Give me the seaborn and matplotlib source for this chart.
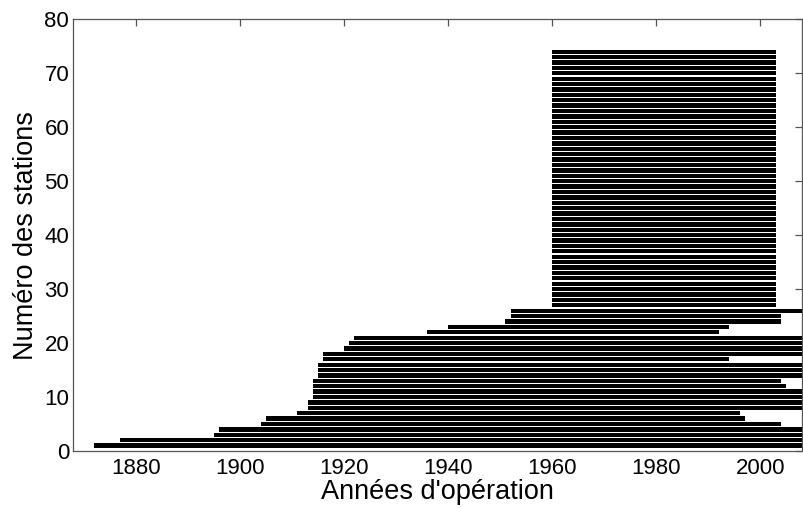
import matplotlib
matplotlib.use("Agg")
import matplotlib.pyplot as plt
import seaborn as sns
import pandas as pd
import numpy as np

# Station operating periods (start year, end year), station numbers 1..74
start_years = [1872, 1877, 1895, 1896, 1904, 1905, 1911, 1913, 1913, 1914,
               1914, 1914, 1914, 1915, 1915, 1915, 1916, 1916, 1920, 1921,
               1922, 1936, 1940, 1951, 1952, 1952,
               1960, 1960, 1960, 1960, 1960, 1960, 1960, 1960, 1960, 1960,
               1960, 1960, 1960, 1960, 1960, 1960, 1960, 1960, 1960, 1960,
               1960, 1960, 1960, 1960, 1960, 1960, 1960, 1960, 1960, 1960,
               1960, 1960, 1960, 1960, 1960, 1960, 1960, 1960, 1960, 1960,
               1960, 1960, 1960, 1960, 1960, 1960, 1960, 1960]
end_years = [2008, 2008, 2008, 2008, 2004, 1997, 1996, 2008, 2008, 2008,
             2008, 2005, 2004, 2008, 2008, 2008, 1994, 2008, 2008, 2008,
             2008, 1992, 1994, 2004, 2004, 2008,
             2003, 2003, 2003, 2003, 2003, 2003, 2003, 2003, 2003, 2003,
             2003, 2003, 2003, 2003, 2003, 2003, 2003, 2003, 2003, 2003,
             2003, 2003, 2003, 2003, 2003, 2003, 2003, 2003, 2003, 2003,
             2003, 2003, 2003, 2003, 2003, 2003, 2003, 2003, 2003, 2003,
             2003, 2003, 2003, 2003, 2003, 2003, 2003, 2003]
stations = list(range(1, len(start_years) + 1))

x_ticks = [1880, 1900, 1920, 1940, 1960, 1980, 2000]
y_ticks = [0, 10, 20, 30, 40, 50, 60, 70, 80]

df = pd.DataFrame({"station": stations, "start": start_years, "end": end_years})
df["duration"] = df["end"] - df["start"]

sns.set_theme(style="white")
plt.rcParams["font.family"] = ["Liberation Sans", "DejaVu Sans"]

fig = plt.figure(figsize=(8.04, 5.08), dpi=100)
ax = fig.add_axes([73.3 / 804, 57 / 508, 728.7 / 804, 431.7 / 508])

ax.barh(df["station"], df["duration"], left=df["start"], height=0.8,
        color="black", edgecolor="none")

ax.set_xlim(1868, 2008)
ax.set_ylim(0, 80)
ax.set_xticks(x_ticks)
ax.set_yticks(y_ticks)

spine_color = "#555555"
for s in ax.spines.values():
    s.set_color(spine_color)
    s.set_linewidth(0.9)
    s.set_visible(True)

ax.tick_params(axis="both", which="both", direction="in", length=5,
               width=0.9, color=spine_color, labelsize=16,
               top=True, right=True, labelcolor="black")
ax.tick_params(axis="x", pad=5)
ax.tick_params(axis="y", pad=3)

ax.set_xlabel("Années d'opération", fontsize=19.5, color="black")
ax.set_ylabel("Numéro des stations", fontsize=19.5, color="black")
ax.xaxis.set_label_coords(0.5, -0.066)
ax.yaxis.set_label_coords(-0.047, 0.5)
ax.grid(False)

fig.savefig("out.png", dpi=100, facecolor="white")
